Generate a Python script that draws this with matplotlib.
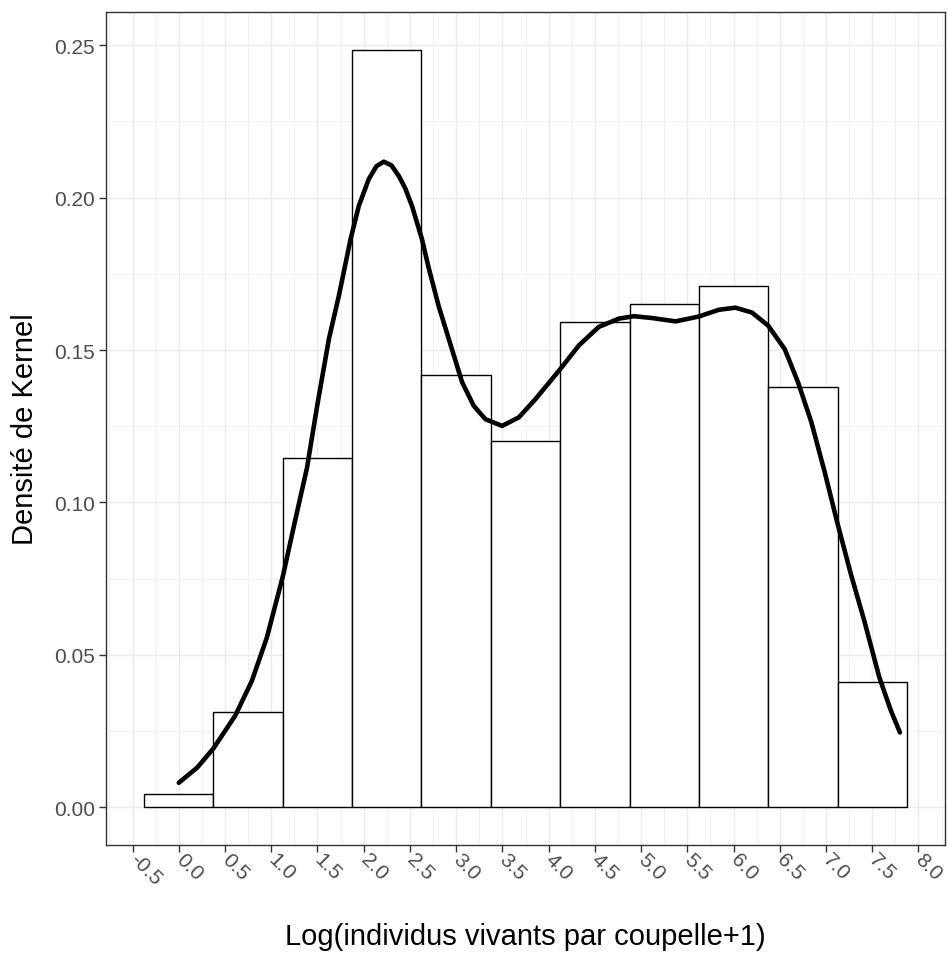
import matplotlib
matplotlib.use("Agg")
import matplotlib.pyplot as plt
import numpy as np

# Histogram (density scale), binwidth 0.75, bins centred on these values
bin_centers = [0.0, 0.75, 1.5, 2.25, 3.0, 3.75, 4.5, 5.25, 6.0, 6.75, 7.5]
bin_density = [0.0042, 0.0311, 0.1147, 0.2485, 0.1419, 0.1202,
               0.1592, 0.1651, 0.1710, 0.1379, 0.0410]
bin_width = 0.75

# Kernel density estimate
kde_x = [0.00, 0.20, 0.375, 0.61, 0.79, 0.953, 1.125, 1.26, 1.387, 1.495,
         1.624, 1.732, 1.858, 1.947, 2.055, 2.137, 2.217, 2.30, 2.378, 2.45,
         2.522, 2.63, 2.70, 2.81, 2.957, 3.065, 3.19, 3.317, 3.497, 3.678,
         3.858, 4.114, 4.327, 4.543, 4.76, 4.922, 5.12, 5.374, 5.625, 5.84,
         6.02, 6.2, 6.375, 6.554, 6.698, 6.841, 6.985, 7.128, 7.271, 7.415,
         7.577, 7.702, 7.80]
kde_y = [0.0080, 0.0130, 0.0193, 0.0300, 0.0414, 0.0557, 0.0757, 0.0943,
         0.1114, 0.1314, 0.1537, 0.1679, 0.1864, 0.1973, 0.2061, 0.2103,
         0.2118, 0.2106, 0.2072, 0.2030, 0.1973, 0.1864, 0.1773, 0.1645,
         0.1500, 0.1394, 0.1317, 0.1273, 0.1251, 0.1279, 0.1339, 0.1433,
         0.1515, 0.1576, 0.1603, 0.1611, 0.1605, 0.1594, 0.1610, 0.1632,
         0.1639, 0.1623, 0.1580, 0.1503, 0.1394, 0.1264, 0.1101, 0.0927,
         0.0763, 0.0611, 0.0426, 0.0317, 0.0245]

x_ticks = [-0.5, 0.0, 0.5, 1.0, 1.5, 2.0, 2.5, 3.0, 3.5, 4.0, 4.5,
           5.0, 5.5, 6.0, 6.5, 7.0, 7.5, 8.0]
y_ticks = [0.00, 0.05, 0.10, 0.15, 0.20, 0.25]

x_title = "Log(individus vivants par coupelle+1)"
y_title = "Densité de Kernel"

plt.rcParams["font.family"] = ["Liberation Sans", "DejaVu Sans"]
plt.rcParams["axes.unicode_minus"] = False

W, H = 947, 954
fig = plt.figure(figsize=(W / 100, H / 100), dpi=100)
left, right, top, bottom = 106, 945, 13, 846
ax = fig.add_axes([left / W, 1 - bottom / H, (right - left) / W, (bottom - top) / H])

# Axis limits with 5% padding like the default ggplot expansion
xmin = bin_centers[0] - bin_width / 2
xmax = bin_centers[-1] + bin_width / 2
xpad = (xmax - xmin) * 0.05
ymax = max(bin_density)
ypad = ymax * 0.05
ax.set_xlim(xmin - xpad, xmax + xpad)
ax.set_ylim(-ypad, ymax + ypad)

# Grid: major and minor lines
grid_col = "#EBEBEB"
for xv in x_ticks:
    ax.axvline(xv, color=grid_col, lw=1.0, zorder=0)
for xv in np.arange(-0.75, 8.5, 0.5):
    ax.axvline(xv, color=grid_col, lw=0.5, zorder=0)
for yv in y_ticks:
    ax.axhline(yv, color=grid_col, lw=1.0, zorder=0)
for yv in np.arange(0.025, 0.26, 0.05):
    ax.axhline(yv, color=grid_col, lw=0.5, zorder=0)

ax.bar(bin_centers, bin_density, width=bin_width, color="white",
       edgecolor="black", linewidth=1.0, zorder=2)
ax.plot(kde_x, kde_y, color="black", lw=3.3, solid_capstyle="round",
        solid_joinstyle="round", zorder=3)

ax.set_xticks(x_ticks)
ax.set_xticklabels([f"{v:.1f}" for v in x_ticks], rotation=-45,
                   ha="left", va="center", rotation_mode="anchor")
ax.set_yticks(y_ticks)
ax.set_yticklabels([f"{v:.2f}" for v in y_ticks])
ax.tick_params(axis="both", colors="#333333", labelcolor="#4D4D4D",
               labelsize=15, length=5, width=1.0)
ax.tick_params(axis="x", pad=3)
ax.tick_params(axis="y", pad=3)

for sp in ax.spines.values():
    sp.set_color("#333333")
    sp.set_linewidth(1.0)

fig.text((left + right) / 2 / W, 1 - 937 / H, x_title, fontsize=21,
         color="black", ha="center", va="center")
fig.text(25 / W, 1 - (top + bottom) / 2 / H, y_title, fontsize=21,
         color="black", ha="center", va="center", rotation=90)

fig.savefig("out.png", dpi=100, facecolor="white")
